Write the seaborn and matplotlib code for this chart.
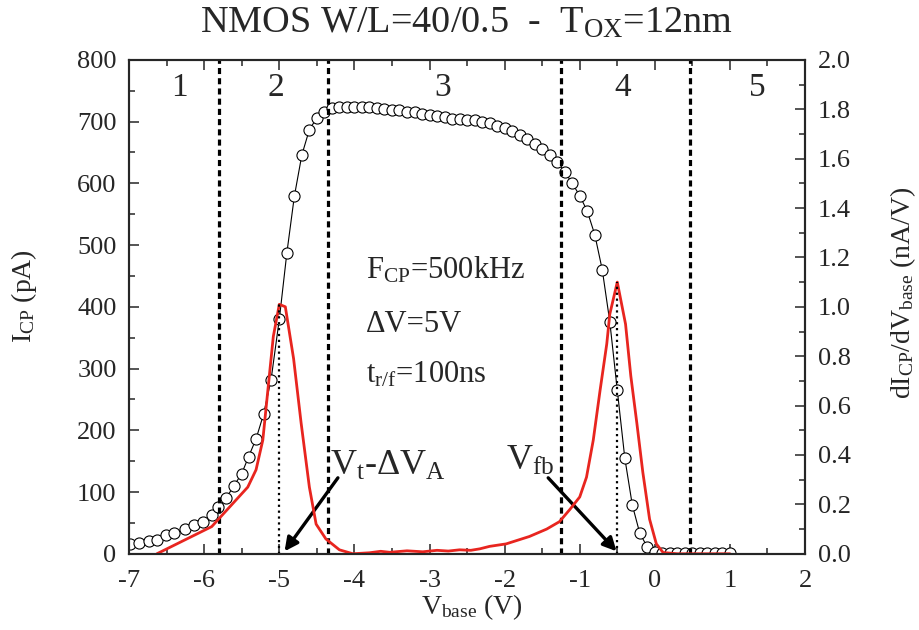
import matplotlib
matplotlib.use('Agg')
import matplotlib.pyplot as plt
import seaborn as sns

# DATA: charge pumping current (circles, left axis)
v_icp = [-6.99, -6.87, -6.74, -6.63, -6.51, -6.40, -6.26, -6.14, -6.01, -5.90,
         -5.81, -5.71, -5.61, -5.50, -5.41, -5.31, -5.21, -5.11, -5.0, -4.9,
         -4.8, -4.7, -4.6, -4.5, -4.4, -4.3, -4.2, -4.1, -4.0, -3.9,
         -3.8, -3.7, -3.6, -3.5, -3.4, -3.3, -3.2, -3.1, -3.0, -2.9,
         -2.8, -2.7, -2.6, -2.5, -2.4, -2.3, -2.2, -2.1, -2.0, -1.9,
         -1.8, -1.7, -1.6, -1.5, -1.4, -1.3, -1.2, -1.1, -1.0, -0.9,
         -0.8, -0.7, -0.6, -0.5, -0.4, -0.3, -0.2, -0.1, 0.0, 0.1,
         0.2, 0.3, 0.4, 0.5, 0.6, 0.7, 0.8, 0.9, 1.0]
icp = [16, 17, 20, 22, 30, 33, 40, 46, 52, 62,
       75, 90, 109, 130, 157, 186, 226, 282, 380, 487,
       579, 646, 687, 706, 716, 722, 723, 723, 723, 723,
       723, 722, 721, 719, 718, 716, 715, 713, 711, 709,
       707, 705, 704, 703, 702, 700, 697, 693, 689, 685,
       679, 672, 664, 655, 646, 634, 619, 600, 580, 555,
       517, 460, 376, 265, 155, 79, 33, 11, 3, 1,
       1, 1, 1, 1, 1, 1, 1, 1, 1]

# DATA: derivative dIcp/dVbase (red line, right axis)
v_der = [-6.63, -5.90, -5.78, -5.42, -5.31, -5.22, -5.16, -5.08, -5.0, -4.92,
         -4.81, -4.71, -4.60, -4.51, -4.38, -4.2, -4.02, -3.8, -3.65, -3.53,
         -3.3, -3.09, -2.9, -2.75, -2.6, -2.45, -2.33, -2.2, -1.98, -1.67,
         -1.44, -1.27, -1.13, -1.0, -0.91, -0.82, -0.73, -0.64, -0.6, -0.5,
         -0.39, -0.32, -0.24, -0.16, -0.07, 0.02, 0.11, 0.3, 1.0]
der = [0.0, 0.11, 0.15, 0.27, 0.34, 0.46, 0.64, 0.88, 1.01, 1.00,
       0.79, 0.53, 0.27, 0.12, 0.06, 0.016, 0.0, 0.004, 0.01, 0.006,
       0.012, 0.008, 0.014, 0.011, 0.016, 0.014, 0.02, 0.03, 0.04, 0.07,
       0.10, 0.13, 0.18, 0.23, 0.31, 0.46, 0.66, 0.85, 0.97, 1.10,
       0.93, 0.72, 0.53, 0.33, 0.14, 0.04, 0.005, 0.0, 0.0]

# region boundaries and labels
bounds = [-5.8, -4.35, -1.25, 0.47]
region_x = [-6.33, -5.05, -2.83, -0.43, 1.36]
region_txt = ['1', '2', '3', '4', '5']
peak_v = [-5.0, -0.5]
peak_der = [1.01, 1.10]

# STYLE
sns.set_theme(style='ticks')
plt.rcParams['font.family'] = ['Liberation Serif', 'DejaVu Serif']
plt.rcParams['mathtext.fontset'] = 'custom'
plt.rcParams['mathtext.rm'] = 'Liberation Serif'
plt.rcParams['mathtext.it'] = 'Liberation Serif:italic'
plt.rcParams['axes.linewidth'] = 1.5
plt.rcParams['axes.unicode_minus'] = False

fig, ax = plt.subplots(figsize=(9.19, 6.3), dpi=100)
fig.subplots_adjust(left=0.1405, right=0.876, bottom=0.121, top=0.905)
ax2 = ax.twinx()

# CIRCLES
sns.lineplot(x=v_icp, y=icp, ax=ax, color='black', linewidth=0.8,
             marker='o', markersize=8, markerfacecolor='white',
             markeredgecolor='black', markeredgewidth=0.8, sort=False)

# RED DERIVATIVE
sns.lineplot(x=v_der, y=der, ax=ax2, color='#e8251f', linewidth=2.0, sort=False)

# VERTICAL LINES
for b in bounds:
    ax.axvline(b, color='black', linewidth=2.3, linestyle=(0, (1.9, 1.3)))
for pv, pd_ in zip(peak_v, peak_der):
    ax2.vlines(pv, 0, pd_, color='black', linewidth=1.6, linestyles=':')

for rx, rt in zip(region_x, region_txt):
    ax.text(rx, 755, rt, fontsize=24, ha='center', va='center')

# TEXT
ax.text(-3.85, 460, r'F$_{\mathrm{CP}}$=500kHz', fontsize=22, va='center')
ax.text(-3.85, 372, 'ΔV=5V', fontsize=22, va='center')
ax.text(-3.85, 290, r't$_{\mathrm{r/f}}$=100ns', fontsize=22, va='center')

ax.text(-4.33, 141, r'V$_{\mathrm{t}}$-ΔV$_{\mathrm{A}}$', fontsize=26, va='center')
ax.text(-1.98, 149, r'V$_{\mathrm{fb}}$', fontsize=26, va='center')
arrow = dict(arrowstyle='-|>', color='black', lw=2.4, mutation_scale=20,
             shrinkA=0, shrinkB=0)
ax.annotate('', xy=(-4.93, 4), xytext=(-4.22, 123), arrowprops=arrow)
ax.annotate('', xy=(-0.51, 4), xytext=(-1.42, 123), arrowprops=arrow)

# AXES
ax.set_xlim(-7, 2)
ax.set_ylim(0, 800)
ax2.set_ylim(0, 2.0)
ax.set_xticks(range(-7, 3))
ax.set_xticks([x + 0.5 for x in range(-7, 2)], minor=True)
ax.set_yticks(range(0, 801, 100))
ax.set_yticks(range(50, 800, 100), minor=True)
ax2.set_yticks([i / 10 for i in range(0, 21, 2)])
ax2.set_yticks([i / 10 for i in range(1, 20, 2)], minor=True)
ax2.set_yticklabels([f'{i / 10:.1f}' for i in range(0, 21, 2)])

ax.tick_params(axis='both', which='both', direction='in', labelsize=19, width=1.1)
ax.tick_params(axis='x', which='both', top=True, pad=12)
ax.tick_params(axis='y', pad=9)
ax.tick_params(which='major', length=7)
ax.tick_params(which='minor', length=4)
ax2.tick_params(axis='y', which='both', direction='in', labelsize=19, width=1.1, pad=9)
ax2.tick_params(which='major', length=7)
ax2.tick_params(which='minor', length=4)

ax.set_xlabel(r'V$_{\mathrm{base}}$ (V)', fontsize=20)
ax.set_ylabel(r'I$_{\mathrm{CP}}$ (pA)', fontsize=20)
ax2.set_ylabel(r'dI$_{\mathrm{CP}}$/dV$_{\mathrm{base}}$ (nA/V)', fontsize=20)
ax.xaxis.set_label_coords(0.507, -0.078)
ax.yaxis.set_label_coords(-0.133, 0.522)
ax2.yaxis.set_label_coords(1.123, 0.528)

fig.text(0.508, 0.963, r'NMOS W/L=40/0.5  -  T$_{\mathrm{OX}}$=12nm',
         fontsize=27.5, ha='center', va='center')

plt.savefig('out.png', dpi=100)
